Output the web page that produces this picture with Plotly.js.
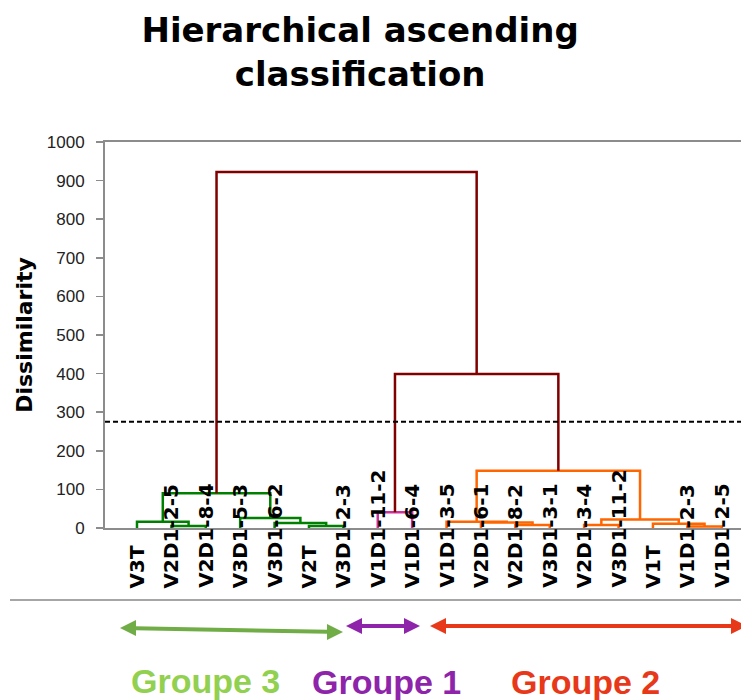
<!DOCTYPE html>
<html>
<head>
<meta charset="utf-8">
<script src="https://cdn.plot.ly/plotly-3.0.1.min.js"></script>
<style>html,body{margin:0;padding:0;background:#fff;}#chart{width:741px;height:700px;}</style>
</head>
<body>
<div id="chart"></div>
<script>
// ---- data ----
const leaves = ['V3T','V2D1-2-5','V2D1-8-4','V3D1-5-3','V3D1-6-2','V2T','V3D1-2-3',
  'V1D1-11-2','V1D1-6-4','V1D1-3-5','V2D1-6-1','V2D1-8-2','V3D1-3-1','V2D1-3-4',
  'V3D1-11-2','V1T','V1D1-2-3','V1D1-2-5'];
// merges: ids < 18 are leaves, id 18+k is merge k
const mergeA = [1, 0, 5, 4, 3, 19, 7, 11, 10, 9, 16, 15, 13, 30, 27, 24, 23];
const mergeB = [2, 18, 6, 20, 21, 22, 8, 12, 25, 26, 17, 28, 14, 29, 31, 32, 33];
const mergeHeight = [5, 16, 5, 13, 26, 90, 41, 8, 14, 16, 4, 11, 8, 22, 148, 399, 922];
const mergeGroup = ['g3','g3','g3','g3','g3','g3','g1','g2','g2','g2','g2','g2','g2','g2','g2','top','top'];
const cutLevel = 275;
const yTicks = [0,100,200,300,400,500,600,700,800,900,1000];
const groupNames = ['Groupe 3','Groupe 1','Groupe 2'];

// ---- styling ----
const groupColor = {g3:'#008000', g1:'#CC3399', g2:'#FF6600', top:'#800000'};
const PL = 105, PT = 142, PW = 636, PH = 386;
const px = x => (x - PL) / PW;
const py = y => (PT + PH - y) / PH;
const heavy = 'DejaVu Sans, Liberation Sans, sans-serif';

// ---- dendrogram geometry from linkage ----
const n = leaves.length;
const nodeX = [], nodeH = [];
for (let i = 0; i < n; i++) { nodeX[i] = i; nodeH[i] = 0; }
const segs = {};
mergeA.forEach((a, k) => {
  const b = mergeB[k], h = mergeHeight[k], id = n + k;
  nodeX[id] = (nodeX[a] + nodeX[b]) / 2; nodeH[id] = h;
  const g = mergeGroup[k];
  if (!segs[g]) segs[g] = {x: [], y: []};
  segs[g].x.push(nodeX[a], nodeX[a], nodeX[b], nodeX[b], null);
  segs[g].y.push(nodeH[a], h, h, nodeH[b], null);
});
const traces = ['g3','g1','g2','top'].map(g => ({
  type: 'scatter', mode: 'lines', x: segs[g].x, y: segs[g].y,
  line: {color: groupColor[g], width: 2.5}, hoverinfo: 'skip', showlegend: false
}));

// ---- annotations ----
const annotations = leaves.map((name, i) => ({
  x: i, xref: 'x', y: 0, yref: 'paper', yanchor: 'bottom', xanchor: 'center',
  yshift: -62, text: name, textangle: -90, showarrow: false,
  font: {family: heavy, size: 20, weight: 700, color: '#000'}
}));
const groupText = [
  {cx: 205, cy: 681, color: '#92D050'},
  {cx: 386, cy: 682, color: '#8E24AA'},
  {cx: 585, cy: 682, color: '#E8381A'}
];
groupNames.forEach((name, i) => {
  annotations.push({
    x: px(groupText[i].cx), y: py(groupText[i].cy), xref: 'paper', yref: 'paper',
    xanchor: 'center', yanchor: 'middle', text: name, showarrow: false,
    font: {family: 'Liberation Sans, Arial, sans-serif', size: 34, weight: 700, color: groupText[i].color}
  });
});

// ---- shapes ----
const shapes = [
  {type: 'line', xref: 'paper', x0: 0, x1: 1, yref: 'y', y0: cutLevel, y1: cutLevel,
   line: {color: '#000', width: 2, dash: '5px,3px'}},
  {type: 'line', xref: 'paper', x0: px(10), x1: px(741), yref: 'paper', y0: py(600), y1: py(600),
   line: {color: '#A6A6A6', width: 2}}
];
function arrow(x1, y1, x2, y2, color, w, hl, hw) {
  const dy = (y2 - y1);
  shapes.push({type: 'line', xref: 'paper', yref: 'paper',
    x0: px(x1 + hl - 1), y0: py(y1 + dy * (hl / (x2 - x1))), x1: px(x2 - hl + 1), y1: py(y2 - dy * (hl / (x2 - x1))),
    line: {color: color, width: w}});
  const tri = (tx, ty, dir) => {
    const bx = tx + dir * hl;
    return 'M' + px(tx) + ',' + py(ty) + ' L' + px(bx) + ',' + py(ty - hw / 2) + ' L' + px(bx) + ',' + py(ty + hw / 2) + ' Z';
  };
  shapes.push({type: 'path', xref: 'paper', yref: 'paper', path: tri(x1, y1, 1), fillcolor: color, line: {width: 0}});
  shapes.push({type: 'path', xref: 'paper', yref: 'paper', path: tri(x2, y2, -1), fillcolor: color, line: {width: 0}});
}
arrow(120, 628, 343, 632, '#70AD47', 4, 16, 16);
arrow(346, 626, 420, 626, '#8E24AA', 4, 16, 16);
arrow(430, 626, 747, 626, '#E8381A', 4, 16, 16);

const layout = {
  width: 741, height: 700,
  margin: {l: PL, r: 0, t: PT, b: 700 - PT - PH},
  paper_bgcolor: '#fff', plot_bgcolor: '#fff',
  title: {text: 'Hierarchical ascending<br>classification', x: 0.486, xanchor: 'center',
    y: 0.94, yanchor: 'top', yref: 'container',
    font: {family: heavy, size: 34, weight: 700, color: '#000'}},
  xaxis: {range: [-0.93, 17.56], showline: true, mirror: true, linecolor: '#8C8C8C', linewidth: 2,
    showticklabels: false, ticks: '', showgrid: false, zeroline: false, fixedrange: true},
  yaxis: {range: [0, 1000], tickvals: yTicks, showline: true, linecolor: '#8C8C8C', linewidth: 2,
    ticks: 'outside', ticklen: 7, tickwidth: 1.5, tickcolor: '#8C8C8C', ticklabelstandoff: 8,
    tickfont: {family: 'Liberation Sans, Arial, sans-serif', size: 17, color: '#222'},
    showgrid: false, zeroline: false, fixedrange: true,
    title: {text: 'Dissimilarity', standoff: 8,
      font: {family: heavy, size: 22, weight: 700, color: '#000'}}},
  shapes: shapes, annotations: annotations, showlegend: false
};
Plotly.newPlot('chart', traces, layout, {displayModeBar: false, staticPlot: true});
</script>
</body>
</html>
